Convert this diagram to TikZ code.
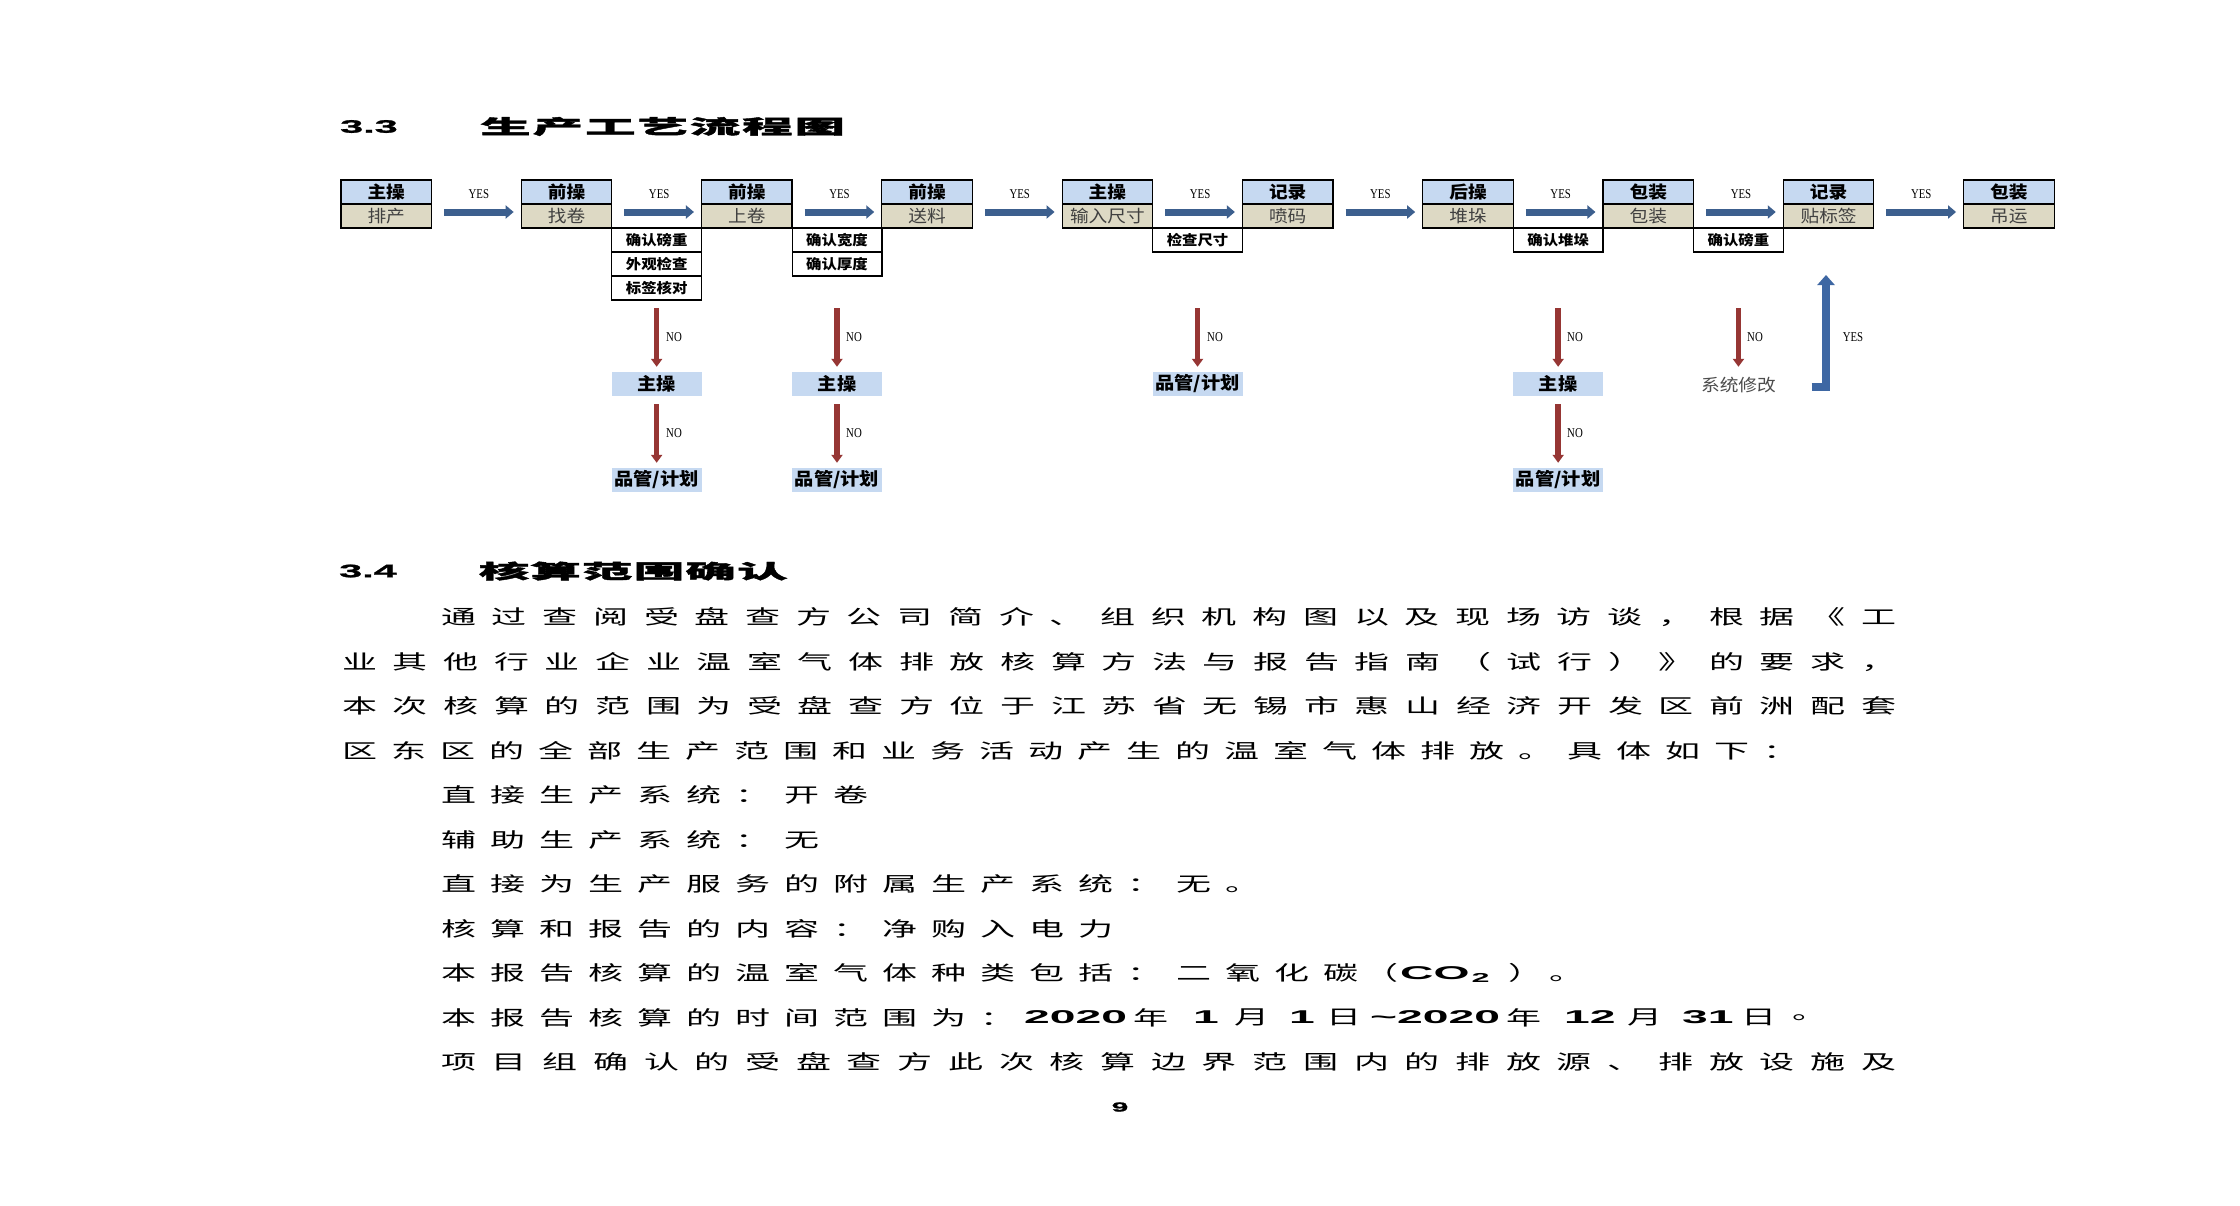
\documentclass[tikz,border=0pt]{standalone}
\usepackage{fontspec}
\usepackage{graphicx}
\usetikzlibrary{arrows.meta,calc}
\newfontfamily\cjkbody[FakeStretch=1.75]{Noto Sans CJK SC}
\newfontfamily\cjktitle[FakeStretch=2.6,BoldFeatures={FakeBold=2}]{Noto Sans CJK SC}
\newfontfamily\cjkbox[FakeStretch=1.1]{Noto Sans CJK SC}
\newfontfamily\latnum[FakeStretch=2.5]{Liberation Sans}
\newfontfamily\latsec[FakeStretch=2.3,BoldFeatures={FakeBold=1.5}]{Liberation Sans}
\newfontfamily\latyes[FakeStretch=0.8]{Liberation Serif}

\newcommand\fBody{\cjkbody\fontsize{20}{24}\selectfont}
\newcommand\fTitle{\cjktitle\bfseries\fontsize{19.5}{23}\selectfont}
\newcommand\fHead{\cjkbox\bfseries\fontsize{17}{20}\selectfont}
\newcommand\fSub{\cjkbox\fontsize{17}{20}\selectfont}
\newcommand\fChk{\cjkbox\bfseries\fontsize{14}{16}\selectfont}
\newcommand\fPin{\cjkbox\bfseries\fontsize{17.5}{20}\selectfont}
\newcommand\fNum{\latnum\bfseries\fontsize{18.5}{22}\selectfont}
\newcommand\fSec{\latsec\bfseries\fontsize{18}{22}\selectfont}
\newcommand\fPage{\latsec\bfseries\fontsize{13}{15}\selectfont}
\newcommand\fYes{\latyes\fontsize{13.5}{16}\selectfont}

\makeatletter
\def\sp@end{\sp@end}
\def\sp@first#1{#1\sp@rest}
\def\sp@rest#1{\ifx\sp@end#1\else\hfill#1\expandafter\sp@rest\fi}
\newcommand\spreadto[2]{\hbox to #1{\sp@first#2\sp@end}}
\makeatother

\definecolor{hdr}{RGB}{198,217,241}
\definecolor{tanbg}{RGB}{221,217,196}
\definecolor{barr}{RGB}{60,95,142}
\definecolor{rarr}{RGB}{150,54,52}
\definecolor{uarr}{RGB}{62,103,163}
\definecolor{subtxt}{RGB}{64,64,64}

\tikzset{
  hdrbox/.style={draw=black, line width=1.2pt, fill=hdr, minimum width=90.5pt, minimum height=24pt, inner sep=0pt, font=\fHead},
  subbox/.style={draw=black, line width=1.2pt, fill=tanbg, minimum width=90.5pt, minimum height=24pt, inner sep=0pt, font=\fSub, text=subtxt},
  chkbox/.style={draw=black, line width=1.2pt, fill=white, minimum width=89.8pt, minimum height=24pt, inner sep=0pt, font=\fChk},
  bluebg/.style={fill=hdr, minimum width=90pt, minimum height=24pt, inner sep=0pt, font=\fPin},
  plainlab/.style={minimum width=80pt, minimum height=24pt, inner sep=0pt, font=\fSub, text=black!70},
  harrow/.style={draw=barr, line width=7pt, shorten <=12pt, shorten >=7pt, -{Triangle[length=8pt,width=13pt]}},
  rarrow/.style={draw=rarr, line width=5.5pt, -{Triangle[length=8pt,width=11pt]}},
  uarrow/.style={draw=uarr, line width=7.5pt, line join=miter, -{Triangle[length=10pt,width=17pt]}},
  yeslab/.style={inner sep=0pt, font=\fYes},
  bodyline/.style={anchor=west, inner sep=0pt, font=\fBody},
  numtxt/.style={anchor=west, inner sep=0pt, font=\fNum},
  sechead/.style={anchor=west, inner sep=0pt, font=\fSec},
  titletxt/.style={anchor=west, inner sep=0pt, font=\fTitle}
}

\begin{document}
\begin{tikzpicture}[x=1pt,y=-1pt]
\fill[white] (0,0) rectangle (2240,1205);
\useasboundingbox (0,0) rectangle (2240,1205);

% headings
\node[sechead] (n33) at (340,126.5) {3.3};
\node[titletxt] (t33) at (480,126.5) {\spreadto{365pt}{生产工艺流程图}};

% main process boxes
\foreach \k/\h/\s in {1/主操/排产,2/前操/找卷,3/前操/上卷,4/前操/送料,5/主操/输入尺寸,6/记录/喷码,7/后操/堆垛,8/包装/包装,9/记录/贴标签,10/包装/吊运}{
  \pgfmathsetmacro\cx{386.2+180.3*(\k-1)}
  \node[hdrbox] (h\k) at (\cx,192) {\h};
  \node[subbox] (s\k) at (\cx,216) {\s};
}

% YES arrows between boxes
\foreach \k [evaluate=\k as \n using int(\k+1)] in {1,...,9}{
  \draw[harrow] ([yshift=4pt]s\k.east) -- ([yshift=4pt]s\n.west);
  \node[yeslab] (y\k) at ($(h\k.east)!0.5!(h\n.west)+(2.5,2)$) {YES};
}

% check boxes
\node[chkbox] (a1) at (656.65,240) {确认磅重};
\node[chkbox] (a2) at (656.65,264) {外观检查};
\node[chkbox] (a3) at (656.65,288) {标签核对};
\node[chkbox] (b1) at (837,240) {确认宽度};
\node[chkbox] (b2) at (837,264) {确认厚度};
\node[chkbox] (c1) at (1197.55,240) {检查尺寸};
\node[chkbox] (d1) at (1558.15,240) {确认堆垛};
\node[chkbox] (e1) at (1738.45,240) {确认磅重};

% second-level nodes
\node[bluebg] (zA) at (656.65,383.5) {主操};
\node[bluebg] (pA) at (656.65,479.5) {品管/计划};
\node[bluebg] (zB) at (837,383.5) {主操};
\node[bluebg] (pB) at (837,479.5) {品管/计划};
\node[bluebg] (pC) at (1197.55,383.5) {品管/计划};
\node[bluebg] (zD) at (1558.15,383.5) {主操};
\node[bluebg] (pD) at (1558.15,479.5) {品管/计划};
\node[plainlab] (xE) at (1738.45,385) {系统修改};

% NO arrows
\draw[rarrow, shorten <=7.5pt, shorten >=4.5pt] (a3) -- (zA);
\draw[rarrow, shorten <=31.5pt, shorten >=4.5pt] (b2) -- (zB);
\draw[rarrow, shorten <=55.5pt, shorten >=4.5pt] (c1) -- (pC);
\draw[rarrow, shorten <=55.5pt, shorten >=4.5pt] (d1) -- (zD);
\draw[rarrow, shorten <=55.5pt, shorten >=6pt] (e1) -- (xE);
\draw[rarrow, shorten <=8.5pt, shorten >=4.5pt] (zA) -- (pA);
\draw[rarrow, shorten <=8.5pt, shorten >=4.5pt] (zB) -- (pB);
\draw[rarrow, shorten <=8.5pt, shorten >=4.5pt] (zD) -- (pD);

\node[yeslab] (noA1) at (674,337) {NO};
\node[yeslab] (noB1) at (854,337) {NO};
\node[yeslab] (noC1) at (1215,337) {NO};
\node[yeslab] (noD1) at (1575,337) {NO};
\node[yeslab] (noE1) at (1755,337) {NO};
\node[yeslab] (noA2) at (674,433) {NO};
\node[yeslab] (noB2) at (854,433) {NO};
\node[yeslab] (noD2) at (1575,433) {NO};

% bent YES arrow back up
\coordinate (ufoot) at (1811.5,387);
\coordinate (utop) at (1826,275);
\draw[uarrow] (ufoot) -| (utop);
\node[yeslab] (yv) at (1853,337) {YES};

% section 3.4
\node[sechead] (n34) at (339,571) {3.4};
\node[titletxt] (t34) at (478.5,571) {\spreadto{309pt}{核算范围确认}};

% body text
\node[bodyline] (l1) at (441,617) {\spreadto{1455pt}{通过查阅受盘查方公司简介、组织机构图以及现场访谈，根据《工}};
\node[bodyline] (l2) at (342,661.5) {\spreadto{1554pt}{业其他行业企业温室气体排放核算方法与报告指南（试行）》的要求，}};
\node[bodyline] (l3) at (342,706) {\spreadto{1554pt}{本次核算的范围为受盘查方位于江苏省无锡市惠山经济开发区前洲配套}};
\node[bodyline] (l4) at (342,750.5) {\spreadto{1456pt}{区东区的全部生产范围和业务活动产生的温室气体排放。具体如下：}};
\node[bodyline] (l5) at (441,795) {\spreadto{427pt}{直接生产系统：开卷}};
\node[bodyline] (l6) at (441,839.5) {\spreadto{378pt}{辅助生产系统：无}};
\node[bodyline] (l7) at (441,884) {\spreadto{819pt}{直接为生产服务的附属生产系统：无。}};
\node[bodyline] (l8) at (441,928.5) {\spreadto{672pt}{核算和报告的内容：净购入电力}};
\node[bodyline] (l9a) at (441,973) {\spreadto{917pt}{本报告核算的温室气体种类包括：二氧化碳}};
\node[bodyline] (l9p) at (1363,973) {（};
\node[anchor=base west, inner sep=0pt, font=\fNum] (l9b) at (1400,979.6) {CO\kern2pt\textsubscript{2}};
\node[bodyline] (l9c) at (1508,973) {\spreadto{76pt}{）。}};
\node[bodyline] (l10a) at (441,1017.5) {\spreadto{574pt}{本报告核算的时间范围为：}};
\node[numtxt] (l10b) at (1024,1017.5) {2020};
\node[bodyline] (l10c) at (1133,1017.5) {年};
\node[numtxt] (l10d) at (1193,1017.5) {1};
\node[bodyline] (l10e) at (1234,1017.5) {月};
\node[numtxt] (l10f) at (1289,1017.5) {1};
\node[bodyline] (l10g) at (1326,1017.5) {日};
\node[numtxt] (l10h) at (1370,1017.5) {\textasciitilde 2020};
\node[bodyline] (l10i) at (1506,1017.5) {年};
\node[numtxt] (l10j) at (1564,1017.5) {12};
\node[bodyline] (l10k) at (1627,1017.5) {月};
\node[numtxt] (l10l) at (1682,1017.5) {31};
\node[bodyline] (l10m) at (1741,1017.5) {日};
\node[bodyline] (l10n) at (1792,1017.5) {。};
\node[bodyline] (l11) at (441,1062) {\spreadto{1455pt}{项目组确认的受盘查方此次核算边界范围内的排放源、排放设施及}};

\node[inner sep=0pt, font=\fPage] (pg) at (1120,1107) {9};
\end{tikzpicture}
\end{document}
